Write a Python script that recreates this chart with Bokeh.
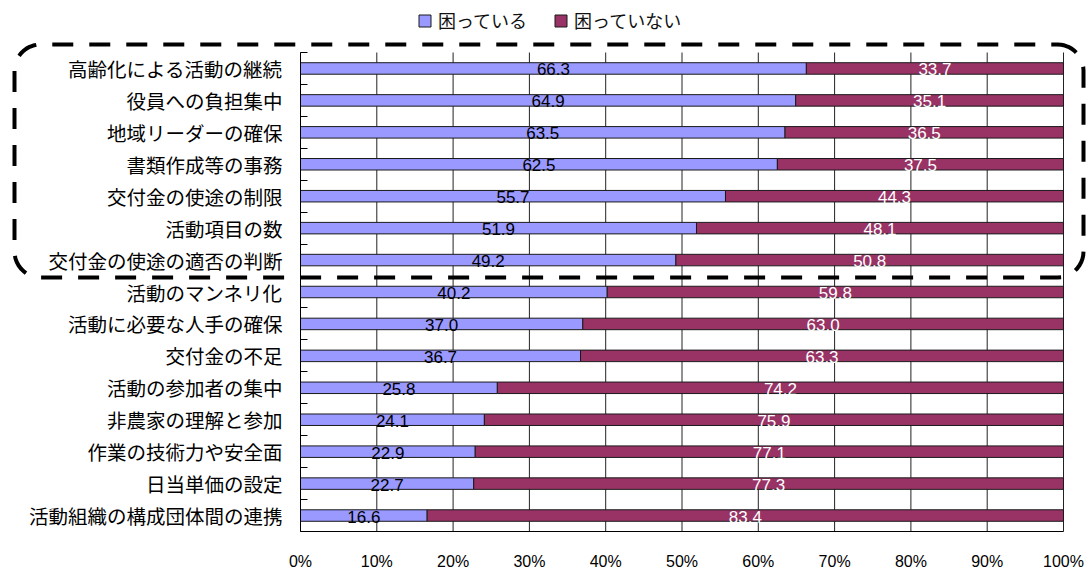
from bokeh.plotting import figure
from bokeh.models import (Range1d, FixedTicker, ColumnDataSource, Legend, LegendItem,
                          PolyAnnotation)
from bokeh.core.properties import value
from bokeh.embed import file_html
from bokeh.resources import INLINE
import numpy as np

# Survey items (top to bottom)
categories = [
    "高齢化による活動の継続",
    "役員への負担集中",
    "地域リーダーの確保",
    "書類作成等の事務",
    "交付金の使途の制限",
    "活動項目の数",
    "交付金の使途の適否の判断",
    "活動のマンネリ化",
    "活動に必要な人手の確保",
    "交付金の不足",
    "活動の参加者の集中",
    "非農家の理解と参加",
    "作業の技術力や安全面",
    "日当単価の設定",
    "活動組織の構成団体間の連携",
]
troubled = [66.3, 64.9, 63.5, 62.5, 55.7, 51.9, 49.2, 40.2, 37.0, 36.7, 25.8, 24.1, 22.9, 22.7, 16.6]
not_troubled = [33.7, 35.1, 36.5, 37.5, 44.3, 48.1, 50.8, 59.8, 63.0, 63.3, 74.2, 75.9, 77.1, 77.3, 83.4]
series_names = ["困っている", "困っていない"]
x_ticks = [0, 10, 20, 30, 40, 50, 60, 70, 80, 90, 100]

BLUE = "#9999FF"
MAROON = "#993366"
JP_FONT = "Noto Sans CJK JP"
NUM_FONT = "Liberation Sans"

# canvas size and where the bar area sits inside it (pixels)
W, H = 1089, 569
AX_L, AX_R, AX_T, AX_B = 300, 1063, 52, 531

n = len(categories)
ys = [i + 0.5 for i in range(n)]
t = np.array(troubled)
nt = np.array(not_troubled)

# the frame covers the whole canvas; axes are pinned with fixed_location
px_per_pct = (AX_R - AX_L) / 100.0
px_per_row = (AX_B - AX_T) / n
x_range = Range1d(-AX_L / px_per_pct, 100 + (W - AX_R) / px_per_pct)
y_range = Range1d(n + (H - AX_B) / px_per_row, -AX_T / px_per_row)

src = ColumnDataSource(dict(
    y=ys,
    t_end=t, nt_end=t + nt,
    t_mid=t / 2, nt_mid=t + nt / 2,
    t_lbl=[f"{v:.1f}" for v in t],
    nt_lbl=[f"{v:.1f}" for v in nt],
))

p = figure(width=W, height=H, output_backend="svg", toolbar_location=None,
           x_range=x_range, y_range=y_range, min_border=0)
p.outline_line_color = None
p.background_fill_color = "white"
p.border_fill_color = "white"
p.xgrid.grid_line_color = None
p.ygrid.grid_line_color = None

# vertical gridlines at each 10 %
p.segment(x0=x_ticks, y0=[0] * len(x_ticks), x1=x_ticks, y1=[n] * len(x_ticks),
          line_color="#222222", line_width=1)

r1 = p.hbar(y="y", left=0, right="t_end", height=0.36, source=src,
            fill_color=BLUE, line_color="#1a1a1a", line_width=1)
r2 = p.hbar(y="y", left="t_end", right="nt_end", height=0.36, source=src,
            fill_color=MAROON, line_color="#1a1a1a", line_width=1)

p.text(x="t_mid", y="y", text="t_lbl", source=src, text_align="center",
       text_baseline="middle", text_font=value(NUM_FONT), text_font_size="17px",
       text_color="black", y_offset=1)
p.text(x="nt_mid", y="y", text="nt_lbl", source=src, text_align="center",
       text_baseline="middle", text_font=value(NUM_FONT), text_font_size="17px",
       text_color="white", y_offset=1)

# x axis: percentage labels, no tick marks
xa = p.xaxis[0]
xa.fixed_location = n
xa.bounds = (0, 100)
xa.ticker = FixedTicker(ticks=x_ticks)
xa.major_label_overrides = {v: f"{v}%" for v in x_ticks}
xa.major_tick_line_color = None
xa.minor_tick_line_color = None
xa.axis_line_color = "#000000"
xa.major_label_standoff = 15
xa.major_label_text_font = NUM_FONT
xa.major_label_text_font_size = "16px"
xa.major_label_text_color = "black"

# y axis: labels at row centres, short inward ticks at row boundaries
ya = p.yaxis[0]
ya.fixed_location = 0
ya.bounds = (0, n)
ya.ticker = FixedTicker(ticks=ys, minor_ticks=list(range(n + 1)))
ya.major_label_overrides = {y: c for y, c in zip(ys, categories)}
ya.major_tick_line_color = None
ya.minor_tick_in = 7
ya.minor_tick_out = 0
ya.minor_tick_line_color = "#000000"
ya.axis_line_color = "#000000"
ya.major_label_standoff = 12
ya.major_label_text_font = JP_FONT
ya.major_label_text_font_size = "19.5px"
ya.major_label_text_color = "#000000"

# legend above the bars
legend = Legend(items=[LegendItem(label=series_names[0], renderers=[r1]),
                       LegendItem(label=series_names[1], renderers=[r2])],
                orientation="horizontal", location=(417, H - 33),
                label_text_font=JP_FONT, label_text_font_size="18px",
                label_text_color="#111111",
                glyph_width=15, glyph_height=15, label_standoff=6, spacing=26,
                border_line_color=None, background_fill_alpha=0,
                padding=0, margin=0)
p.add_layout(legend)

# dashed rounded frame around the upper group of items
def rounded_rect(x0, y0, x1, y1, r, steps=12):
    xs, ys_ = [], []
    corners = [(x1 - r, y0 + r, -90, 0), (x1 - r, y1 - r, 0, 90),
               (x0 + r, y1 - r, 90, 180), (x0 + r, y0 + r, 180, 270)]
    for cx, cy, a0, a1 in corners:
        for a in np.linspace(np.radians(a0), np.radians(a1), steps):
            xs.append(cx + r * np.cos(a))
            ys_.append(cy + r * np.sin(a))
    return xs, ys_

fx, fy = rounded_rect(14, 44, 1083, 277, 26)
frame = PolyAnnotation(xs=fx, ys=fy, xs_units="canvas", ys_units="canvas",
                       fill_alpha=0, line_color="black", line_alpha=1, line_width=4,
                       line_dash="21 16")
p.add_layout(frame)

open("out.html", "w").write(file_html(p, INLINE))
